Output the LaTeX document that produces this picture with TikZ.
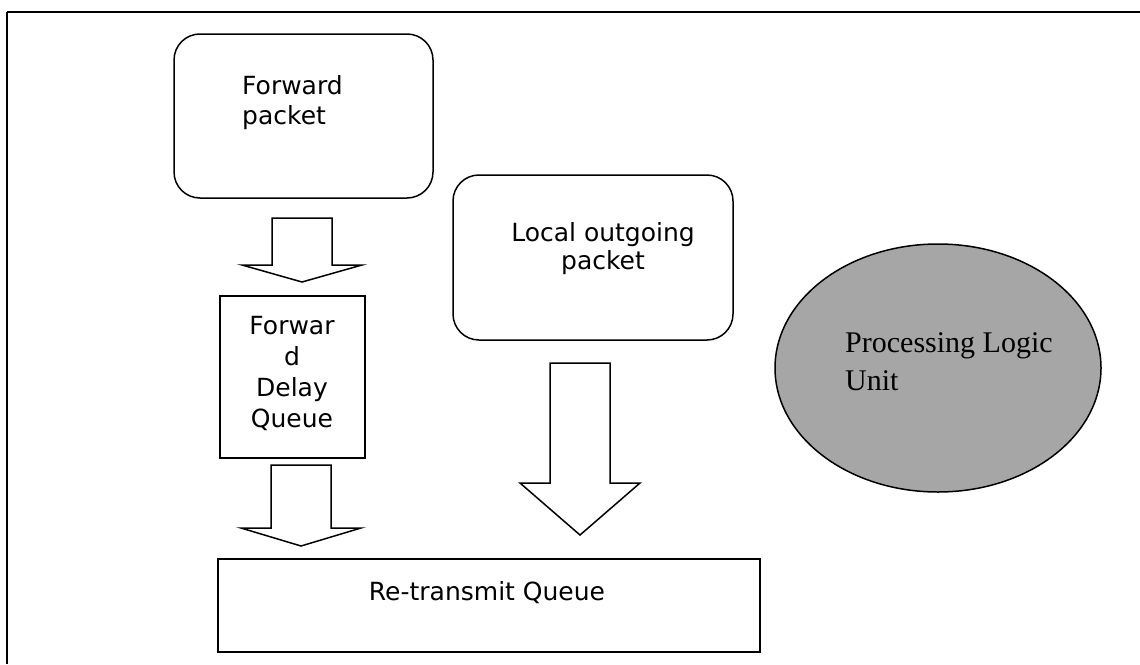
\documentclass[tikz,border=0pt]{standalone}
\usepackage{fontspec}
\setmainfont{Liberation Serif}
\newfontfamily\verd{DejaVu Sans}
\usepackage{tikz}
\usetikzlibrary{calc, shapes.geometric}

% hollow block arrow pointing down: top point, tip point, head length
\newcommand{\blockdown}[3]{%
  \draw[blockarrow] ($(#1)+(-30,0)$) -- ($(#2)+(-30,-#3)$) -- ($(#2)+(-60,-#3)$)
    -- (#2) -- ($(#2)+(60,-#3)$) -- ($(#2)+(30,-#3)$) -- ($(#1)+(30,0)$) -- cycle;}

\begin{document}
\begin{tikzpicture}[x=1pt, y=-1pt,
    outline/.style={draw, line width=1.5pt, inner sep=0pt},
    roundbox/.style={outline, rounded corners=26pt},
    blockarrow/.style={draw, line width=1.5pt, fill=white, line join=miter},
    txt/.style={inner sep=0pt, font=\verd\fontsize{25}{30}\selectfont}]
    \useasboundingbox (0,0) rectangle (1140,664);

    % outer frame (only top and left edge visible)
    \draw[line width=2.5pt] (7,12) -- (1140,12);
    \draw[line width=2pt] (7,12) -- (7,664);

    % Boxes
    \node[roundbox, minimum width=259, minimum height=164] (fwd) at (303.5,116) {};
    \node[outline, minimum width=145, minimum height=162] (fdq) at (292.5,377) {};
    \node[outline, minimum width=542, minimum height=93] (rtq) at (489,605.5) {};
    \node[roundbox, minimum width=280, minimum height=165] (loc) at (593,257.5) {};

    % Labels
    \node[txt, align=left, anchor=north west] (fwdtxt) at (242,75) {Forward\\packet};
    \node[txt, align=center, anchor=north, font=\verd\fontsize{25}{31}\selectfont] (fdqtxt) at (292,316) {Forwar\\d\\Delay\\Queue};
    \node[txt, align=center, anchor=north, font=\verd\fontsize{25}{28}\selectfont] (loctxt) at (603,222) {Local outgoing\\packet};
    \node[txt] (rtqtxt) at (487,593) {Re-transmit Queue};

    % Processing logic unit
    \node[ellipse, draw, line width=1.5pt, fill=black!35, minimum width=326, minimum height=248, inner sep=0pt] (plu) at (938,368) {};
    \node[inner sep=0pt, align=left, anchor=west, font=\fontsize{30}{38}\selectfont] (plutxt) at (845,362) {Processing Logic\\Unit};

    % Block arrows
    \coordinate (a1top) at (302,218);
    \coordinate (a1tip) at (302,282);
    \coordinate (a2top) at (301,465);
    \coordinate (a2tip) at (301,546);
    \coordinate (a3top) at (580,363);
    \coordinate (a3tip) at (580,535);
    \blockdown{a1top}{a1tip}{17}
    \blockdown{a2top}{a2tip}{18}
    \blockdown{a3top}{a3tip}{52}
\end{tikzpicture}
\end{document}
